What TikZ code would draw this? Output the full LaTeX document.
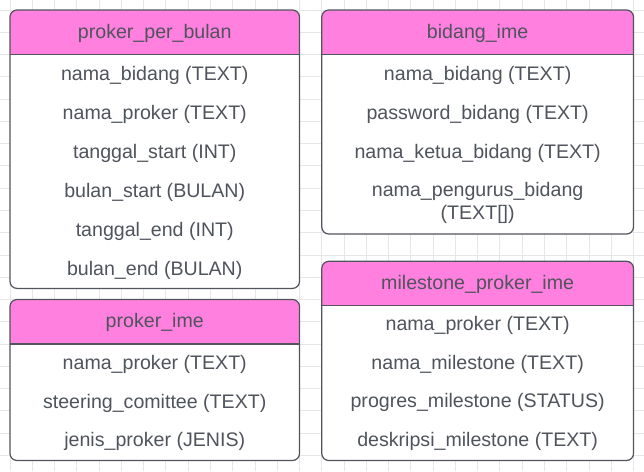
\documentclass[tikz,border=0pt]{standalone}
\usepackage{fontspec}
\setmainfont{Liberation Sans}
\definecolor{gridcol}{HTML}{E6E6E6}
\definecolor{bordercol}{HTML}{50545C}
\definecolor{headpink}{HTML}{FF80DF}
\definecolor{txtcol}{HTML}{4F545C}
\tikzset{
  fieldtxt/.style={inner sep=0pt, text=txtcol, font=\fontsize{19.6}{23}\selectfont, text height=14.2pt, text depth=4.1pt, yshift=-1pt},
  headtxt/.style={fieldtxt},
  multitxt/.style={inner sep=0pt, text=txtcol, font=\fontsize{19.6}{23}\selectfont, align=center, yshift=-1pt},
  tblborder/.style={draw=bordercol, line width=1.2pt, rounded corners=7pt},
  sepline/.style={draw=bordercol, line width=1.2pt}
}
\newcommand\ertable[5]{% x0 y0 x1 y1 yh
  \begin{scope}
    \clip[rounded corners=7pt] (#1,#2) rectangle (#3,#4);
    \fill[white] (#1,#2) rectangle (#3,#4);
    \fill[headpink] (#1,#2) rectangle (#3,#5);
  \end{scope}
  \draw[sepline] (#1,#5) -- (#3,#5);
  \draw[tblborder] (#1,#2) rectangle (#3,#4);
}
\begin{document}
\begin{tikzpicture}[x=1pt,y=-1pt]
\useasboundingbox (0,0) rectangle (644,471);
\fill[white] (0,0) rectangle (644,471);
% grid
\foreach \k in {0,...,28} {
  \draw[gridcol, line width=0.9pt] ({10+\k*22.27},0) -- ({10+\k*22.27},471);
}
\foreach \k in {0,...,20} {
  \draw[gridcol, line width=0.9pt] (0,{10+\k*22.27}) -- (644,{10+\k*22.27});
}
% proker_per_bulan
\ertable{10}{10}{299.5}{288.4}{54.5}
\node[headtxt] (ppbh) at (154.75,32.2) {proker\_per\_bulan};
\node[fieldtxt] (ppb1) at (154.75,74) {nama\_bidang (TEXT)};
\node[fieldtxt] (ppb2) at (154.75,113) {nama\_proker (TEXT)};
\node[fieldtxt] (ppb3) at (154.75,152) {tanggal\_start (INT)};
\node[fieldtxt] (ppb4) at (154.75,191) {bulan\_start (BULAN)};
\node[fieldtxt] (ppb5) at (154.75,230) {tanggal\_end (INT)};
\node[fieldtxt] (ppb6) at (154.75,269) {bulan\_end (BULAN)};
% proker_ime
\ertable{10}{299.5}{299.5}{460.5}{344}
\node[headtxt] (pih) at (154.75,321.7) {proker\_ime};
\node[fieldtxt] (pi1) at (154.75,363.5) {nama\_proker (TEXT)};
\node[fieldtxt] (pi2) at (154.75,402) {steering\_comittee (TEXT)};
\node[fieldtxt] (pi3) at (154.75,440.8) {jenis\_proker (JENIS)};
% bidang_ime
\ertable{321.8}{10}{633.5}{234}{54.5}
\node[headtxt] (bih) at (477.65,32.2) {bidang\_ime};
\node[fieldtxt] (bi1) at (477.65,74) {nama\_bidang (TEXT)};
\node[fieldtxt] (bi2) at (477.65,113) {password\_bidang (TEXT)};
\node[fieldtxt] (bi3) at (477.65,152) {nama\_ketua\_bidang (TEXT)};
\node[multitxt] (bi4) at (477.65,201.5) {nama\_pengurus\_bidang\\(TEXT[])};
% milestone_proker_ime
\ertable{321.8}{261.3}{633.5}{460.5}{305.8}
\node[headtxt] (mph) at (477.65,283.3) {milestone\_proker\_ime};
\node[fieldtxt] (mp1) at (477.65,324.5) {nama\_proker (TEXT)};
\node[fieldtxt] (mp2) at (477.65,363.2) {nama\_milestone (TEXT)};
\node[fieldtxt] (mp3) at (477.65,401.9) {progres\_milestone (STATUS)};
\node[fieldtxt] (mp4) at (477.65,440.6) {deskripsi\_milestone (TEXT)};
\end{tikzpicture}
\end{document}
